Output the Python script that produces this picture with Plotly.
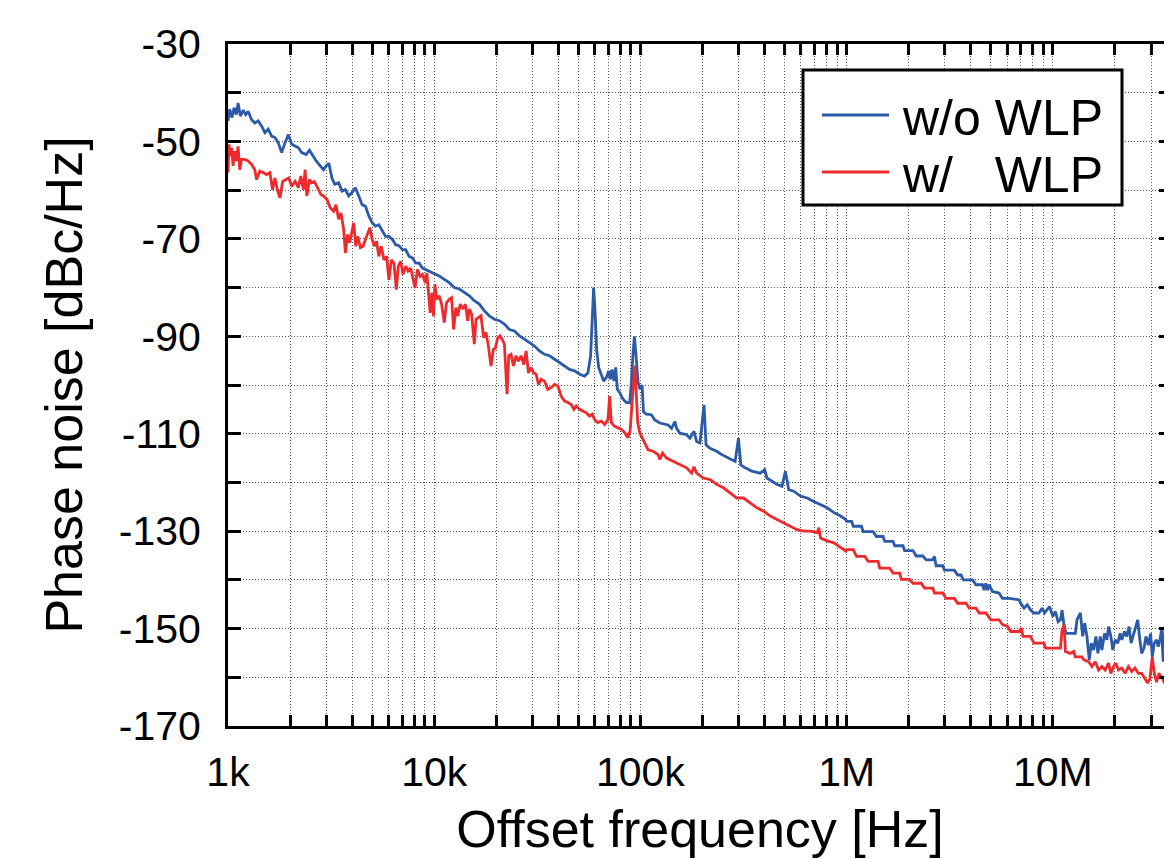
import plotly.graph_objects as go

# ---------------- data ----------------
blue_f = [1000, 1019, 1046, 1070, 1098, 1119, 1148, 1184, 1219, 1252, 1300, 1349, 1401, 1454, 1510,
          1567, 1627, 1689, 1754, 1820, 1890, 1962, 2037, 2115, 2195, 2279, 2392, 2484, 2578, 2677,
          2800, 2907, 2995, 3085, 3192, 3289, 3440, 3572, 3708, 3849, 3996, 4148, 4306, 4471, 4642,
          4818, 5002, 5193, 5391, 5598, 5810, 6032, 6263, 6501, 6750, 7006, 7273, 7551, 7841, 8141,
          8450, 8772, 9106, 9454, 9815, 10000, 10576, 11186, 11830, 12510, 13230, 13990, 14800, 15650,
          16550, 17510, 18510, 19580, 20700, 21900, 23160, 24490, 25900, 27400, 28970, 30640, 32400,
          34270, 36250, 38330, 40540, 42870, 45340, 47950, 50700, 53620, 55660, 57350, 58430, 59310,
          60200, 61340, 62730, 64630, 66340, 68360, 70150, 71470, 72820, 74470, 75880, 77310, 79350,
          82370, 85500, 88740, 90410, 92120, 93510, 95260, 97430, 99630, 101880, 103500, 106960,
          113100, 117400, 124200, 136400, 141600, 147000, 149800, 155400, 167500, 173900, 181900,
          187400, 194500, 199000, 203500, 208100, 217700, 234500, 248000, 267300, 288000, 298900,
          306900, 322300, 347200, 381300, 400500, 410900, 434500, 459600, 486100, 504700, 523900,
          554100, 597000, 643400, 693300, 747000, 805000, 867500, 935000, 988800,
          1.000e6, 1.057e6, 1.077e6, 1.181e6, 1.203e6, 1.345e6, 1.395e6, 1.502e6, 1.531e6, 1.679e6,
          1.711e6, 1.876e6, 1.911e6, 2.097e6, 2.176e6, 2.343e6, 2.431e6, 2.618e6, 2.667e6, 2.717e6,
          2.927e6, 2.981e6, 3.331e6, 3.456e6, 3.586e6, 3.681e6, 4.082e6, 4.236e6, 4.562e6, 4.647e6,
          4.734e6, 4.823e6, 4.912e6, 5.098e6, 5.490e6, 5.697e6, 6.135e6, 6.855e6, 6.984e6, 7.248e6,
          7.521e6, 7.804e6, 8.099e6, 8.560e6, 8.884e6, 9.118e6, 9.391e6, 9.636e6, 10.00e6, 10.30e6,
          10.61e6, 10.89e6, 11.09e6, 11.30e6, 11.59e6, 12.17e6, 12.86e6, 13.10e6, 13.60e6, 13.96e6,
          14.27e6, 14.64e6, 15.03e6, 15.37e6, 15.77e6, 16.18e6, 16.55e6, 16.98e6, 17.30e6, 17.82e6,
          18.29e6, 18.63e6, 19.12e6, 19.54e6, 20.06e6, 20.66e6, 21.20e6, 21.60e6, 22.25e6, 22.83e6,
          23.43e6, 23.96e6, 24.59e6, 25.23e6, 25.80e6, 26.38e6, 26.97e6, 27.68e6, 28.30e6, 29.04e6,
          29.81e6, 30.36e6, 31.05e6, 31.86e6, 32.46e6, 33.06e6, 33.68e6, 34.31e6, 34.94e6, 35.59e6,
          36.26e6, 36.94e6, 37.78e6]
blue_db = [-45.8, -43.4, -45.1, -43.1, -44.5, -42.1, -44.8, -43.6, -44.5, -43.8, -45.5, -46.2, -45.8,
           -46.8, -48.2, -47.5, -48.9, -49.2, -50.3, -52.3, -50.3, -48.6, -50.6, -51.0, -51.3, -52.3,
           -52.7, -51.8, -53.0, -54.0, -55.0, -55.8, -55.0, -54.5, -57.5, -58.8, -58.5, -60.2, -59.9,
           -61.2, -60.5, -59.5, -61.2, -63.0, -63.3, -65.3, -66.7, -67.4, -67.1, -68.4, -69.5, -69.5,
           -70.1, -71.2, -71.4, -72.2, -72.2, -73.6, -73.9, -75.0, -75.0, -76.0, -76.3, -76.6, -77.0,
           -77.1, -77.6, -78.3, -79.0, -80.0, -80.3, -81.0, -81.7, -82.7, -83.4, -84.8, -85.8, -86.5,
           -86.8, -87.5, -88.6, -88.9, -89.9, -90.6, -91.3, -92.0, -93.0, -93.7, -94.0, -94.7, -95.4,
           -96.1, -96.8, -97.1, -97.8, -98.2, -97.5, -94.0, -85.8, -80.0, -84.4, -92.7, -96.4, -97.8,
           -99.2, -98.5, -97.1, -98.8, -96.8, -99.2, -96.4, -100.9, -101.6, -102.9, -103.6, -103.6,
           -99.5, -93.4, -90.0, -94.0, -99.5, -100.9, -100.0, -105.5, -106.0, -106.1, -107.2, -107.8,
           -108.2, -108.9, -107.5, -108.9, -109.9, -110.2, -110.9, -109.5, -111.6, -111.9, -107.8,
           -104.1, -112.3, -113.0, -113.6, -114.3, -115.0, -115.7, -110.9, -116.4, -117.0, -117.7,
           -118.1, -117.4, -119.1, -119.8, -120.4, -120.8, -117.7, -121.5, -121.8, -122.8, -123.2,
           -123.9, -124.5, -125.2, -126.2, -126.9, -127.6,
           -128.0, -128.0, -129.0, -129.0, -130.1, -130.1, -131.1, -131.1, -132.1, -132.1,
           -133.0, -133.0, -134.0, -134.0, -135.1, -135.1, -135.9, -135.9, -135.2, -137.1,
           -137.1, -138.0, -138.0, -139.0, -139.0, -140.0, -140.0, -141.0, -141.0, -142.1,
           -140.7, -142.1, -141.0, -142.4, -142.7, -143.8, -143.8, -144.1, -144.8, -145.8,
           -145.1, -146.2, -146.8, -146.8, -145.8, -146.8, -146.2, -145.5, -147.5, -146.5,
           -148.6, -148.2, -146.2, -148.9, -151.0, -151.0, -151.0, -148.2, -146.8, -151.6,
           -148.9, -151.6, -156.4, -153.0, -154.4, -151.6, -155.1, -151.6, -154.4, -151.0,
           -152.3, -149.6, -151.6, -154.4, -152.3, -153.0, -151.0, -152.3, -150.6, -151.6,
           -149.6, -153.0, -151.3, -149.9, -148.2, -152.0, -155.1, -154.0, -151.6, -153.4,
           -151.0, -155.8, -153.0, -152.3, -153.7, -152.3, -150.3, -156.8, -150.3, -151.0,
           -155.1, -163.3, -164.0]

red_f = [1000, 1011, 1026, 1042, 1058, 1078, 1098, 1119, 1140, 1162, 1206, 1252, 1300, 1349, 1375,
         1427, 1482, 1538, 1597, 1645, 1689, 1734, 1786, 1841, 1911, 1970, 2037, 2115, 2195, 2254,
         2323, 2366, 2411, 2484, 2550, 2617, 2718, 2821, 2907, 3018, 3132, 3252, 3339, 3440, 3532,
         3639, 3708, 3806, 3893, 3996, 4071, 4163, 4258, 4387, 4520, 4642, 4764, 4873, 5002, 5135,
         5252, 5391, 5535, 5703, 5876, 6032, 6193, 6381, 6550, 6699, 6877, 7060, 7273, 7467, 7694,
         7898, 8077, 8292, 8544, 8772, 9039, 9209, 9384, 9561, 9741, 9924, 10075, 10300, 10576,
         10860, 11186, 11480, 11830, 12140, 12420, 12740, 12990, 13380, 13740, 14150, 14530, 14800,
         15190, 15650, 15950, 16370, 16860, 17380, 17830, 18310, 18860, 19360, 19800, 20320, 20860,
         21330, 21900, 22560, 22990, 23590, 24220, 24950, 25610, 26390, 27190, 27910, 28650, 29510,
         30300, 31210, 32040, 33010, 34270, 35560, 36930, 38330, 39790, 41300, 42870, 44490, 46180,
         47590, 48850, 50700, 52630, 54630, 56700, 58430, 59970, 62250, 64630, 67080, 69620, 70940,
         72280, 74470, 77880, 80830, 83900, 87100, 89100, 90760, 92480, 93860, 95260, 97050, 99260,
         101880, 104970, 109000, 115300, 121900, 124200, 128000, 133900, 144300, 155400, 167500,
         177200, 181900, 187400, 201900, 217700, 234500, 252700, 272300, 293500, 316200, 340800,
         367200, 395800, 426500, 459600, 495300, 533800, 575200, 619700, 667900, 719700, 733300,
         747000, 805000, 867500, 935000, 992700,
         1.000e6, 1.077e6, 1.117e6, 1.226e6, 1.272e6, 1.421e6, 1.448e6, 1.618e6, 1.679e6, 1.808e6,
         1.842e6, 2.021e6, 2.097e6, 2.300e6, 2.386e6, 2.618e6, 2.667e6, 2.927e6, 3.036e6, 3.331e6,
         3.456e6, 3.791e6, 3.934e6, 4.236e6, 4.397e6, 4.734e6, 5.007e6, 5.490e6, 5.697e6, 6.022e6,
         6.249e6, 6.855e6, 7.036e6, 7.168e6, 7.804e6, 8.099e6, 9.050e6, 9.219e6, 10.89e6, 11.09e6,
         11.34e6, 11.51e6, 12.17e6, 12.63e6, 12.86e6, 13.85e6, 14.11e6, 14.92e6, 15.48e6, 16.06e6,
         16.67e6, 17.30e6, 17.95e6, 18.63e6, 19.12e6, 19.69e6, 20.21e6, 20.81e6, 21.60e6, 22.41e6,
         23.26e6, 24.13e6, 25.04e6, 25.99e6, 26.97e6, 27.99e6, 28.83e6, 29.59e6, 30.36e6, 31.05e6,
         31.86e6, 32.70e6, 33.68e6, 34.69e6, 35.59e6, 36.94e6, 37.78e6]
red_db = [-56.4, -50.6, -53.0, -51.3, -55.0, -52.0, -54.0, -51.0, -55.8, -53.7, -53.7, -54.0, -54.7,
          -55.8, -57.8, -56.1, -56.4, -56.8, -56.4, -59.9, -57.5, -59.9, -61.6, -58.2, -57.8, -57.5,
          -59.2, -58.2, -59.5, -57.1, -59.9, -55.8, -61.2, -57.8, -58.5, -58.2, -59.5, -60.9, -61.2,
          -61.9, -63.6, -64.3, -63.0, -66.0, -64.7, -68.1, -72.9, -69.1, -70.8, -68.1, -66.7, -71.5,
          -69.5, -71.8, -71.5, -70.1, -68.8, -67.7, -70.1, -71.5, -70.5, -73.6, -71.5, -74.3, -73.6,
          -78.4, -74.3, -75.0, -80.4, -75.6, -74.6, -77.3, -75.6, -76.6, -76.0, -78.4, -80.1, -76.3,
          -77.7, -77.3, -79.0, -77.0, -80.4, -85.2, -81.1, -85.9, -79.3, -82.4, -81.7, -83.4, -87.2,
          -83.1, -82.4, -82.1, -88.6, -84.1, -85.8, -83.4, -84.4, -83.4, -86.8, -84.4, -85.5, -91.6,
          -86.5, -86.2, -85.8, -90.3, -89.2, -92.0, -96.1, -92.7, -92.4, -90.3, -89.9, -90.6, -91.6,
          -101.9, -94.0, -93.7, -96.1, -94.0, -95.1, -94.0, -95.8, -93.0, -97.5, -96.4, -97.5, -97.8,
          -99.9, -98.8, -99.2, -100.9, -100.5, -99.9, -100.2, -102.3, -103.3, -103.6, -104.0, -105.0,
          -104.3, -105.0, -105.3, -105.7, -106.4, -106.0, -107.1, -107.7, -107.4, -108.1, -107.1,
          -102.3, -107.7, -108.4, -108.8, -109.1, -109.8, -110.8, -109.5, -105.0, -99.5, -96.0,
          -100.9, -107.7, -109.8, -110.8, -112.0, -113.3, -113.6, -114.3, -115.3, -114.0, -115.0,
          -115.7, -116.4, -117.0, -118.1, -116.8, -118.1, -119.1, -119.4, -120.4, -121.1, -122.2,
          -123.2, -123.2, -124.2, -125.2, -125.9, -126.9, -127.6, -128.3, -129.0, -129.7, -130.0,
          -130.0, -130.3, -129.3, -131.4, -132.0, -132.4, -133.4, -134.1,
          -133.8, -133.8, -135.2, -135.2, -136.2, -136.2, -137.6, -137.6, -138.6, -138.6,
          -139.9, -139.9, -140.7, -140.7, -141.7, -141.7, -142.7, -142.7, -143.8, -143.8,
          -144.8, -144.8, -145.8, -145.8, -146.8, -146.8, -148.2, -148.2, -149.2, -149.5,
          -150.6, -150.6, -149.9, -151.6, -151.6, -153.0, -153.0, -154.0, -154.0, -150.3,
          -149.2, -154.7, -155.1, -154.7, -155.8, -155.8, -156.4, -156.8, -157.8, -156.8,
          -158.5, -157.8, -158.5, -157.1, -159.2, -157.8, -157.1, -158.5, -158.1, -159.2,
          -157.8, -158.8, -158.1, -159.2, -159.2, -160.2, -161.2, -160.2, -155.8, -159.2,
          -161.0, -159.2, -159.9, -161.0, -160.6, -161.2, -165.0]

series_names = ["w/o WLP", "w/\u00a0\u00a0\u00a0WLP"]
series_colors = ["#2b5aa8", "#ee2a2d"]

y_ticks = list(range(-170, -29, 10))
y_labels = [str(v) if (v + 170) % 20 == 0 else "" for v in y_ticks]
decade_labels = {1e3: "1k", 1e4: "10k", 1e5: "100k", 1e6: "1M", 1e7: "10M"}
x_ticks = [m * d for d in (1e3, 1e4, 1e5, 1e6, 1e7) for m in range(1, 10) if m * d <= 3.5e7]
x_labels = [decade_labels.get(v, "") for v in x_ticks]

# ---------------- figure ----------------
FONT = "Liberation Sans, Arial, Helvetica, sans-serif"
OFF = 8  # page body margin of the html page
W, H = 1172 - OFF, 859 - OFF
ML, MT = 228 - OFF, 44 - OFF
PLOT_R, PLOT_B = 1172 - OFF, 726 - OFF
MR, MB = W - PLOT_R, H - PLOT_B
PW, PH = PLOT_R - ML, PLOT_B - MT

fig = go.Figure()
for xs, ys, name, col in ((blue_f, blue_db, series_names[0], series_colors[0]),
                          (red_f, red_db, series_names[1], series_colors[1])):
    fig.add_trace(go.Scatter(x=xs, y=ys, mode="lines", name=name,
                             line=dict(color=col, width=2.8), showlegend=False))
# empty trace to activate the right-side tick axis
fig.add_trace(go.Scatter(x=[None], y=[None], yaxis="y2", showlegend=False, hoverinfo="skip"))

grid = dict(gridcolor="#555555", gridwidth=1, griddash="1px,2px")
fig.update_layout(
    width=W, height=H,
    margin=dict(l=ML, r=MR, t=MT, b=MB, autoexpand=False),
    paper_bgcolor="white", plot_bgcolor="white",
    font=dict(family=FONT, color="black"),
    xaxis=dict(type="log", range=[3, 7.578], tickvals=x_ticks, ticktext=x_labels,
               ticks="inside", ticklen=11, tickwidth=2.5, tickcolor="black",
               showline=True, linewidth=3, linecolor="black", mirror="ticks",
               tickfont=dict(size=41, family=FONT), ticklabelstandoff=8,
               title=dict(text="Offset frequency [Hz]", font=dict(size=52, family=FONT), standoff=17),
               zeroline=False, **grid),
    yaxis=dict(range=[-170, -30], tickvals=y_ticks, ticktext=y_labels,
               ticks="inside", ticklen=13, tickwidth=3, tickcolor="black",
               showline=True, linewidth=3, linecolor="black", mirror=False,
               tickfont=dict(size=41, family=FONT), ticklabelstandoff=16,
               title=dict(text="Phase noise [dBc/Hz]", font=dict(size=52, family=FONT), standoff=20),
               zeroline=False, **grid),
    yaxis2=dict(range=[-170, -30], overlaying="y", side="right", tickvals=y_ticks,
                ticks="inside", ticklen=13, tickwidth=3, tickcolor="black",
                showticklabels=False, showgrid=False, showline=False, zeroline=False),
)

# ---------------- legend (drawn box, samples and labels) ----------------
def px_x(p):
    return (p - OFF - ML) / PW

def px_y(p):
    return (PLOT_B - (p - OFF)) / PH

fig.add_shape(type="rect", xref="paper", yref="paper",
              x0=px_x(803), x1=px_x(1122), y0=px_y(205), y1=px_y(70),
              line=dict(color="black", width=3), fillcolor="white", layer="above")
for i, (name, col) in enumerate(zip(series_names, series_colors)):
    yy = px_y(115 + 57 * i)
    fig.add_shape(type="line", xref="paper", yref="paper",
                  x0=px_x(822), x1=px_x(889), y0=yy, y1=yy,
                  line=dict(color=col, width=3), layer="above")
    fig.add_annotation(xref="paper", yref="paper", x=px_x(900), y=yy - 0.004,
                       xanchor="left", yanchor="middle", text=name, showarrow=False,
                       font=dict(size=50, family=FONT, color="black"))

fig.write_html("out.html")
